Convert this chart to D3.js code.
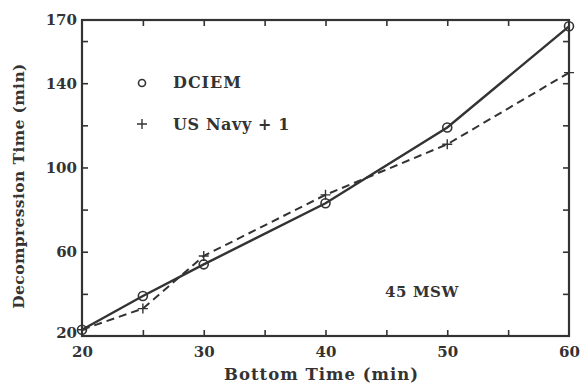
<!DOCTYPE html>
<html>
<head>
<meta charset="utf-8">
<script src="https://cdn.jsdelivr.net/npm/d3@7"></script>
<style>
  body { margin: 0; background: #fff; }
  svg text { font-family: "DejaVu Serif", serif; font-weight: bold; fill: #333; }
</style>
</head>
<body>
<div class="chart"></div>
<script>
  // bottom time (min)
  let bottomTimes = [20, 25, 30, 40, 50, 60]
  let dciem = [23, 39, 54, 83, 119, 167]
  let usNavy = [23, 33, 58, 87, 111, 145]

  let xTickLabels = [20, 30, 40, 50, 60]
  let xTickMarks = [25, 30, 35, 40, 45, 50, 55]
  let yTickLabels = [20, 60, 100, 140, 170]
  let yTickMarks = [40, 60, 80, 100, 120, 140, 160]

  let margin = { top: 20, right: 14, left: 82, bottom: 49 }
  let fullWidth = 583, fullHeight = 385
  let width = fullWidth - margin.left - margin.right
  let height = fullHeight - margin.top - margin.bottom
  let ink = '#333'

  let svg = d3.select('.chart')
    .append('svg')
      .attr('width', fullWidth)
      .attr('height', fullHeight)
    .append('g')
      .attr('transform', `translate(${margin.left}, ${margin.top})`)

  let xScale = d3.scaleLinear().domain([20, 60]).range([0, width])
  let yScale = d3.scaleLinear().domain([20, 170]).range([height, 0])

  // tick marks pointing inward, on all four sides
  function ticksOnly(axis) {
    return axis.tickSize(-6).tickFormat('')
  }
  let tickGroups = [
    svg.append('g').attr('transform', `translate(0, ${height})`).call(ticksOnly(d3.axisBottom(xScale).tickValues(xTickMarks))),
    svg.append('g').call(ticksOnly(d3.axisTop(xScale).tickValues(xTickMarks))),
    svg.append('g').call(ticksOnly(d3.axisLeft(yScale).tickValues(yTickMarks))),
    svg.append('g').attr('transform', `translate(${width}, 0)`).call(ticksOnly(d3.axisRight(yScale).tickValues(yTickMarks)))
  ]
  tickGroups.forEach(g => {
    g.select('.domain').remove()
    g.selectAll('line').attr('stroke', ink).attr('stroke-width', 1.6)
  })

  // frame
  svg.append('rect')
    .attr('width', width)
    .attr('height', height)
    .attr('fill', 'none')
    .attr('stroke', ink)
    .attr('stroke-width', 2.2)

  // tick labels
  let xLab = svg.append('g')
    .attr('transform', `translate(0, ${height})`)
    .call(d3.axisBottom(xScale).tickValues(xTickLabels).tickSize(0).tickPadding(10).tickFormat(d3.format('d')))
  let yLab = svg.append('g')
    .call(d3.axisLeft(yScale).tickValues(yTickLabels).tickSize(0).tickPadding(5).tickFormat(d3.format('d')))
  ;[xLab, yLab].forEach(g => {
    g.select('.domain').remove()
    g.selectAll('text')
      .style('font-family', '"DejaVu Serif", serif')
      .style('font-weight', 'bold')
      .style('font-size', '15px')
      .attr('fill', ink)
  })
  yLab.selectAll('text').filter(d => d === 20).attr('dy', '0.1em')

  // axis titles
  svg.append('text')
    .attr('x', width / 2 - 4)
    .attr('y', height + 44)
    .attr('text-anchor', 'middle')
    .style('font-size', '16.5px')
    .style('letter-spacing', '1px')
    .text('Bottom Time (min)')
  svg.append('text')
    .attr('transform', `translate(${-58}, ${height / 2 + 8}) rotate(-90)`)
    .attr('text-anchor', 'middle')
    .style('font-size', '15.5px')
    .style('letter-spacing', '0.4px')
    .text('Decompression Time (min)')

  // lines
  let line = d3.line()
    .x((d, i) => xScale(bottomTimes[i]))
    .y(d => yScale(d))

  svg.append('path')
    .datum(usNavy)
    .attr('d', line)
    .attr('fill', 'none')
    .attr('stroke', ink)
    .attr('stroke-width', 2)
    .attr('stroke-dasharray', '8,5')

  svg.append('path')
    .datum(dciem)
    .attr('d', line)
    .attr('fill', 'none')
    .attr('stroke', ink)
    .attr('stroke-width', 2.4)

  // markers
  svg.selectAll('circle.dciem')
    .data(dciem)
    .enter()
    .append('circle')
      .attr('class', 'dciem')
      .attr('cx', (d, i) => xScale(bottomTimes[i]))
      .attr('cy', d => yScale(d))
      .attr('r', 4.5)
      .attr('fill', 'none')
      .attr('stroke', ink)
      .attr('stroke-width', 1.6)

  function plus(sel, s) {
    sel.append('path')
      .attr('d', `M${-s},0H${s}M0,${-s}V${s}`)
      .attr('stroke', ink)
      .attr('stroke-width', 1.4)
      .attr('fill', 'none')
  }
  svg.selectAll('g.navy')
    .data(usNavy)
    .enter()
    .append('g')
      .attr('class', 'navy')
      .attr('transform', (d, i) => `translate(${xScale(bottomTimes[i])}, ${yScale(d)})`)
      .call(plus, 5)

  // legend
  let legend = svg.append('g').attr('transform', 'translate(60, 63)')
  legend.append('circle')
    .attr('r', 3.5)
    .attr('fill', 'none')
    .attr('stroke', ink)
    .attr('stroke-width', 1.6)
  legend.append('text')
    .attr('x', 31)
    .attr('y', 5)
    .style('font-size', '16px')
    .style('letter-spacing', '1px')
    .text('DCIEM')
  let l2 = legend.append('g').attr('transform', 'translate(0, 41)')
  l2.call(plus, 5)
  l2.append('text')
    .attr('x', 31)
    .attr('y', 6)
    .style('font-size', '16px')
    .style('letter-spacing', '0.6px')
    .text('US Navy + 1')

  svg.append('text')
    .attr('x', 303)
    .attr('y', 277)
    .style('font-size', '15px')
    .style('letter-spacing', '0.6px')
    .text('45 MSW')
</script>
</body>
</html>
